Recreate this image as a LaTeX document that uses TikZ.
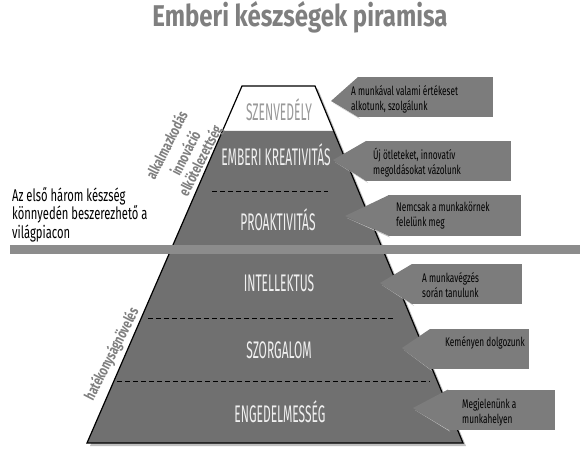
\documentclass[tikz,border=0pt]{standalone}
\usepackage{fontspec}
\setmainfont{Fira Sans}
\newfontfamily\agencycaps[FakeStretch=0.5]{Fira Sans}
\newfontfamily\agencytext[FakeStretch=0.66]{Fira Sans}
\newfontfamily\agencyside[FakeStretch=0.72]{Fira Sans}
\newfontfamily\agencytitle[FakeStretch=0.8]{Fira Sans}
\usetikzlibrary{calc}
\definecolor{pyrgray}{HTML}{707070}
\definecolor{callgray}{HTML}{7C7C7C}
\definecolor{bargray}{HTML}{8C8C8C}
\definecolor{titlegray}{HTML}{7F7F7F}
\tikzset{
  levellabel/.style={font=\agencycaps\fontsize{24}{24}\selectfont, text=white!94!black, inner sep=0pt},
  sidelabel/.style={font=\agencyside\bfseries\fontsize{15}{15}\selectfont, text=titlegray, rotate=63, inner sep=0pt},
  calloutbox/.style={fill=callgray, minimum height=40pt, inner sep=0pt, outer sep=0pt},
  calloutshadow/.style={fill=black!22},
  callouttext/.style={font=\agencytext\fontsize{12.5}{15}\selectfont, align=left, anchor=west, inner sep=0pt},
  divider/.style={dash pattern=on 5pt off 3pt, line width=0.8pt}
}
\begin{document}
\begin{tikzpicture}[x=1pt,y=-1pt]
  \useasboundingbox (0,0) rectangle (586,457);
  % title
  \node[font=\agencytitle\bfseries\fontsize{30}{30}\selectfont, text=titlegray] (title) at (300,17) {Emberi készségek piramisa};

  % pyramid corners
  \coordinate (tl) at (242,86);
  \coordinate (tr) at (315,86);
  \coordinate (bl) at (87,443);
  \coordinate (br) at (463,443);
  \coordinate (ml) at ($(tl)!0.126!(bl)$);
  \coordinate (mr) at ($(tr)!0.126!(br)$);

  % shadow and body
  \fill[black!25] ([shift={(3,3)}]tl) -- ([shift={(3,3)}]tr) -- ([shift={(3,3)}]br) -- ([shift={(3,3)}]bl) -- cycle;
  \fill[white] (tl) -- (tr) -- (mr) -- (ml) -- cycle;
  \fill[pyrgray] (ml) -- (mr) -- (br) -- (bl) -- cycle;
  \draw[line width=1.2pt] (tl) -- (tr) -- (br) -- (bl) -- cycle;

  % dividers
  \draw[divider] (212,191) -- (328,191);
  \draw[divider] (148,318) -- (395,318);
  \draw[divider] (117,381) -- (430,381);

  % level names
  \node[levellabel, text=black!40] (l1) at (279,110) {SZENVEDÉLY};
  \node[levellabel] (l2) at (276,155) {EMBERI KREATIVITÁS};
  \node[levellabel] (l3) at (278,220) {PROAKTIVITÁS};
  \node[levellabel] (l4) at (279,283) {INTELLEKTUS};
  \node[levellabel] (l5) at (279,350) {SZORGALOM};
  \node[levellabel] (l6) at (280,412) {ENGEDELMESSÉG};

  % labels along the left edge
  \node[sidelabel] (s1) at (166,145) {alkalmazkodás};
  \node[sidelabel] (s2) at (185,153) {innováció};
  \node[sidelabel] (s3) at (201,161) {elkötelezettség};
  \node[sidelabel] (s4) at (112,354) {hatékonyságnövelés};

  % separating bar
  \fill[bargray] (10,245) rectangle (580,254);
  \node[font=\agencytext\fontsize{17}{18.5}\selectfont, align=left, anchor=north west, inner sep=0pt] (note) at (12,187)
    {Az első három készség\\könnyedén beszerezhető a\\világpiacon};

  % callouts
  \coordinate (t1) at (331,101);
  \coordinate (t2) at (333,160);
  \coordinate (t3) at (345,216);
  \coordinate (t4) at (380,283);
  \coordinate (t5) at (402,348);
  \coordinate (t6) at (413,408);
  \node[calloutbox, minimum width=135pt] (c1) at (425.5,97) {};
  \node[calloutbox, minimum width=145pt] (c2) at (438.5,161) {};
  \node[calloutbox, minimum width=133pt] (c3) at (454.5,215.5) {};
  \node[calloutbox, minimum width=110pt] (c4) at (467,284) {};
  \node[calloutbox, minimum width=99pt] (c5) at (479.5,349) {};
  \node[calloutbox, minimum width=107pt] (c6) at (501.5,409.5) {};
  \foreach \i in {1,...,6}{
    \fill[calloutshadow] ([shift={(2,2)}]t\i) -- ([shift={(2,2)}]c\i.south west) -- (c\i.south west) -- cycle;
    \fill[callgray] (c\i.north west) -- (t\i) -- (c\i.south west) -- cycle;
  }
  \node[callouttext] (n1) at (351,99) {A munkával valami értékeset\\alkotunk, szolgálunk};
  \node[callouttext] (n2) at (373,162.5) {Új ötleteket, innovatív\\megoldásokat vázolunk};
  \node[callouttext] (n3) at (396,216) {Nemcsak a munkakörnek\\felelünk meg};
  \node[callouttext] (n4) at (422,285) {A munkavégzés\\során tanulunk};
  \node[callouttext] (n5) at (445,343) {Keményen dolgozunk};
  \node[callouttext] (n6) at (462,412) {Megjelenünk a\\munkahelyen};
\end{tikzpicture}
\end{document}
